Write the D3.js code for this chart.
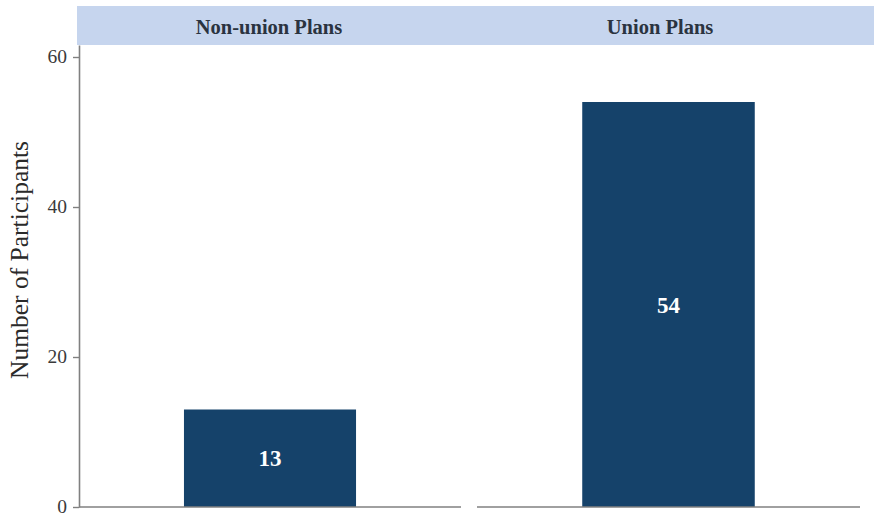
<!DOCTYPE html>
<html>
<head>
<meta charset="utf-8">
<script src="https://cdn.jsdelivr.net/npm/d3@7"></script>
<style>
  html, body { margin: 0; padding: 0; background: #fff; }
  svg { display: block; }
  text { font-family: "Liberation Serif", "DejaVu Serif", serif; }
</style>
</head>
<body>
<svg id="chart" width="874" height="514"></svg>
<script>
// Participants by plan type
const panels = ["Non-union Plans", "Union Plans"];
const values = [13, 54];
const yTicks = [0, 20, 40, 60];
const yLabel = "Number of Participants";

const W = 874, H = 514;
const svg = d3.select("#chart");

// layout
const axisX = 79;
const baseY = 507;
const stripTop = 6, stripBottom = 45;
const panelRanges = [[79, 461], [477, 860]];
const headerCenters = [269, 660];

const y = d3.scaleLinear().domain([0, 61.6]).range([baseY, stripBottom]);

// header strip
svg.append("rect")
  .attr("x", 77).attr("y", stripTop)
  .attr("width", W - 77).attr("height", stripBottom - stripTop)
  .attr("fill", "#c6d5ee");

svg.selectAll("text.header")
  .data(panels)
  .join("text")
  .attr("class", "header")
  .attr("x", (d, i) => headerCenters[i])
  .attr("y", 34)
  .attr("text-anchor", "middle")
  .attr("font-size", 20.5)
  .attr("font-weight", "bold")
  .attr("fill", "#2a3340")
  .text(d => d);

// panels: baseline + bar + value label
panels.forEach((p, i) => {
  const [x0, x1] = panelRanges[i];
  const x = d3.scaleBand().domain([p]).range([x0, x1]).paddingInner(0).paddingOuter(0.61);
  const g = svg.append("g");

  g.append("rect")
    .attr("x", x(p))
    .attr("y", y(values[i]))
    .attr("width", x.bandwidth())
    .attr("height", y(0) - y(values[i]))
    .attr("fill", "#15426a");

  g.append("line")
    .attr("x1", x0).attr("x2", x1)
    .attr("y1", baseY).attr("y2", baseY)
    .attr("stroke", "#808080").attr("stroke-width", 1.6);

  g.append("text")
    .attr("x", x(p) + x.bandwidth() / 2)
    .attr("y", (y(values[i]) + y(0)) / 2 + 8)
    .attr("text-anchor", "middle")
    .attr("font-size", 23)
    .attr("font-weight", 600)
    .attr("fill", "#ffffff")
    .text(values[i]);
});

// y axis
const yAxis = d3.axisLeft(y).tickValues(yTicks).tickSize(6).tickPadding(6).tickSizeOuter(0);
const ga = svg.append("g").attr("transform", `translate(${axisX},0)`).call(yAxis);
ga.select(".domain").attr("stroke", "#808080").attr("stroke-width", 1.6);
ga.selectAll(".tick line").attr("stroke", "#808080").attr("stroke-width", 1.4);
ga.selectAll(".tick text")
  .attr("font-family", "Liberation Serif, DejaVu Serif, serif")
  .attr("font-size", 19.5)
  .attr("dy", "0.26em")
  .attr("fill", "#3a3a3a");

svg.append("text")
  .attr("transform", `translate(28,${(140 + 380) / 2}) rotate(-90)`)
  .attr("text-anchor", "middle")
  .attr("font-size", 25.5)
  .attr("fill", "#2a2a2a")
  .text(yLabel);
</script>
</body>
</html>
